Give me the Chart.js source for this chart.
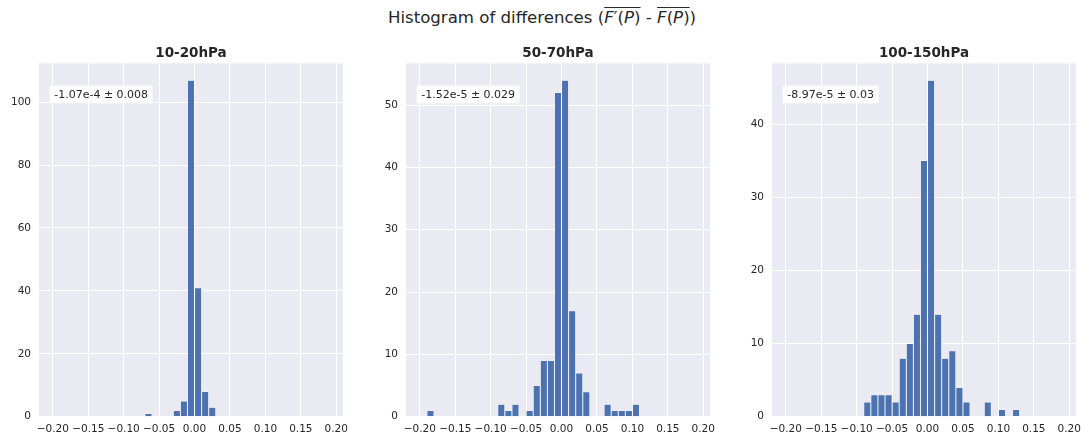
<!DOCTYPE html>
<html>
<head>
<meta charset="utf-8">
<script src="https://cdn.jsdelivr.net/npm/chart.js@4.4.1/dist/chart.umd.min.js"></script>
<style>
  html, body { margin: 0; padding: 0; background: #ffffff; }
  body { width: 1084px; height: 440px; position: relative; overflow: hidden; font-family: "DejaVu Sans", sans-serif; }
  #suptitle { position: absolute; left: 0; top: 8px; width: 1084px; text-align: center; font-size: 16.6px; line-height: 19px; color: #262626; white-space: nowrap; }
  #suptitle .ov { text-decoration: overline; text-decoration-thickness: 1px; }
  #suptitle i { font-style: oblique; }
  canvas { position: absolute; top: 40px; }
</style>
</head>
<body>
<div id="suptitle">Histogram of differences (<span class="ov"><i>F</i>′(<i>P</i>)</span> - <span class="ov"><i>F</i>(<i>P</i>)</span>)</div>
<canvas id="panel0" width="359" height="400" style="left:0px"></canvas>
<canvas id="panel1" width="359" height="400" style="left:367px"></canvas>
<canvas id="panel2" width="359" height="400" style="left:733px"></canvas>
<script>
// Histogram bins: left edges, each bin is 0.01 wide
const binWidth = 0.01;
const binLeftEdges = [
  -0.20, -0.19, -0.18, -0.17, -0.16, -0.15, -0.14, -0.13, -0.12, -0.11,
  -0.10, -0.09, -0.08, -0.07, -0.06, -0.05, -0.04, -0.03, -0.02, -0.01,
   0.00,  0.01,  0.02,  0.03,  0.04,  0.05,  0.06,  0.07,  0.08,  0.09,
   0.10,  0.11,  0.12,  0.13,  0.14,  0.15,  0.16,  0.17,  0.18
];

// Counts per bin for each pressure layer
const counts10to20 = [
  0, 0, 0, 0, 0, 0, 0, 0, 0, 0,
  0, 0, 0, 1, 0, 0, 0, 2, 5, 107,
  41, 8, 3, 0, 0, 0, 0, 0, 0, 0,
  0, 0, 0, 0, 0, 0, 0, 0, 0
];
const counts50to70 = [
  0, 1, 0, 0, 0, 0, 0, 0, 0, 0,
  0, 2, 1, 2, 0, 1, 5, 9, 9, 52,
  54, 17, 7, 4, 0, 0, 2, 1, 1, 1,
  2, 0, 0, 0, 0, 0, 0, 0, 0
];
const counts100to150 = [
  0, 0, 0, 0, 0, 0, 0, 0, 0, 0,
  0, 2, 3, 3, 3, 2, 8, 10, 14, 35,
  46, 14, 8, 9, 4, 2, 0, 0, 2, 0,
  1, 0, 1, 0, 0, 0, 0, 0, 0
];

const panelTitles = ["10-20hPa", "50-70hPa", "100-150hPa"];
const panelStats = ["-1.07e-4 \u00b1 0.008", "-1.52e-5 \u00b1 0.029", "-8.97e-5 \u00b1 0.03"];

// Axis ticks
const xTickValues = [-0.20, -0.15, -0.10, -0.05, 0.00, 0.05, 0.10, 0.15, 0.20];
const xTickLabels = ["\u22120.20", "\u22120.15", "\u22120.10", "\u22120.05", "0.00", "0.05", "0.10", "0.15", "0.20"];
const yTicks10to20 = [0, 20, 40, 60, 80, 100];
const yTicks50to70 = [0, 10, 20, 30, 40, 50];
const yTicks100to150 = [0, 10, 20, 30, 40];

const panels = [
  { id: "panel0", title: panelTitles[0], stat: panelStats[0], counts: counts10to20, yTicks: yTicks10to20 },
  { id: "panel1", title: panelTitles[1], stat: panelStats[1], counts: counts50to70, yTicks: yTicks50to70 },
  { id: "panel2", title: panelTitles[2], stat: panelStats[2], counts: counts100to150, yTicks: yTicks100to150 }
];

const TEXT = "#262626";
Chart.defaults.font.family = "'DejaVu Sans', sans-serif";
Chart.defaults.color = TEXT;

// Grey plot background behind grid and bars
const plotBackground = {
  id: "plotBackground",
  beforeDraw(chart) {
    const a = chart.chartArea, ctx = chart.ctx;
    ctx.save();
    ctx.fillStyle = "#eaeaf2";
    ctx.fillRect(a.left, a.top, a.right - a.left, a.bottom - a.top);
    ctx.restore();
  }
};

// White box with mean ± std in the upper-left corner
const statBox = {
  id: "statBox",
  afterDatasetsDraw(chart, args, opts) {
    const a = chart.chartArea, ctx = chart.ctx;
    ctx.save();
    ctx.font = "11px 'DejaVu Sans', sans-serif";
    const w = ctx.measureText(opts.text).width + 9;
    const x = a.left + 10.7, y = a.top + 22.4, h = 17.6;
    ctx.fillStyle = "#ffffff";
    ctx.fillRect(x, y, w, h);
    ctx.fillStyle = TEXT;
    ctx.textBaseline = "middle";
    ctx.textAlign = "left";
    ctx.fillText(opts.text, x + 4.5, y + h / 2 + 0.5);
    ctx.restore();
  }
};

panels.forEach(p => {
  const data = binLeftEdges.map((e, i) => ({ x: e + binWidth / 2, y: p.counts[i] }));
  const yMax = Math.max(...p.counts) * 1.05;
  new Chart(document.getElementById(p.id), {
    type: "bar",
    data: {
      datasets: [{
        data: data,
        backgroundColor: "#4c72b0",
        borderColor: "#ffffff",
        borderWidth: 0.5,
        borderSkipped: "start",
        inflateAmount: 0,
        barPercentage: 1,
        categoryPercentage: 1
      }]
    },
    options: {
      responsive: false,
      animation: false,
      devicePixelRatio: 1,
      layout: { padding: { left: 0, right: 16, top: 0, bottom: 0 } },
      plugins: {
        legend: { display: false },
        tooltip: { enabled: false },
        title: {
          display: true,
          text: p.title,
          fullSize: false,
          color: TEXT,
          font: { size: 13.5, weight: "bold" },
          padding: { top: 5.6, bottom: 1.5 }
        },
        statBox: { text: p.stat }
      },
      scales: {
        x: {
          type: "linear",
          offset: false,
          min: -0.2195,
          max: 0.2095,
          afterBuildTicks(scale) { scale.ticks = xTickValues.map(v => ({ value: v })); },
          afterFit(scale) { scale.height = 23.3; },
          ticks: {
            color: TEXT,
            font: { size: 10.5 },
            padding: 6.3,
            maxRotation: 0,
            autoSkip: false,
            callback: (v, i) => xTickLabels[i]
          },
          grid: { color: "#ffffff", lineWidth: 1, drawTicks: false, offset: false },
          border: { display: false }
        },
        y: {
          type: "linear",
          min: 0,
          max: yMax,
          afterBuildTicks(scale) { scale.ticks = p.yTicks.map(v => ({ value: v })); },
          afterFit(scale) { scale.width = 39; },
          ticks: {
            color: TEXT,
            font: { size: 10.5 },
            padding: 8,
            autoSkip: false,
            callback: v => String(v)
          },
          grid: { color: "#ffffff", lineWidth: 1, drawTicks: false },
          border: { display: false }
        }
      }
    },
    plugins: [plotBackground, statBox]
  });
});
</script>
</body>
</html>
